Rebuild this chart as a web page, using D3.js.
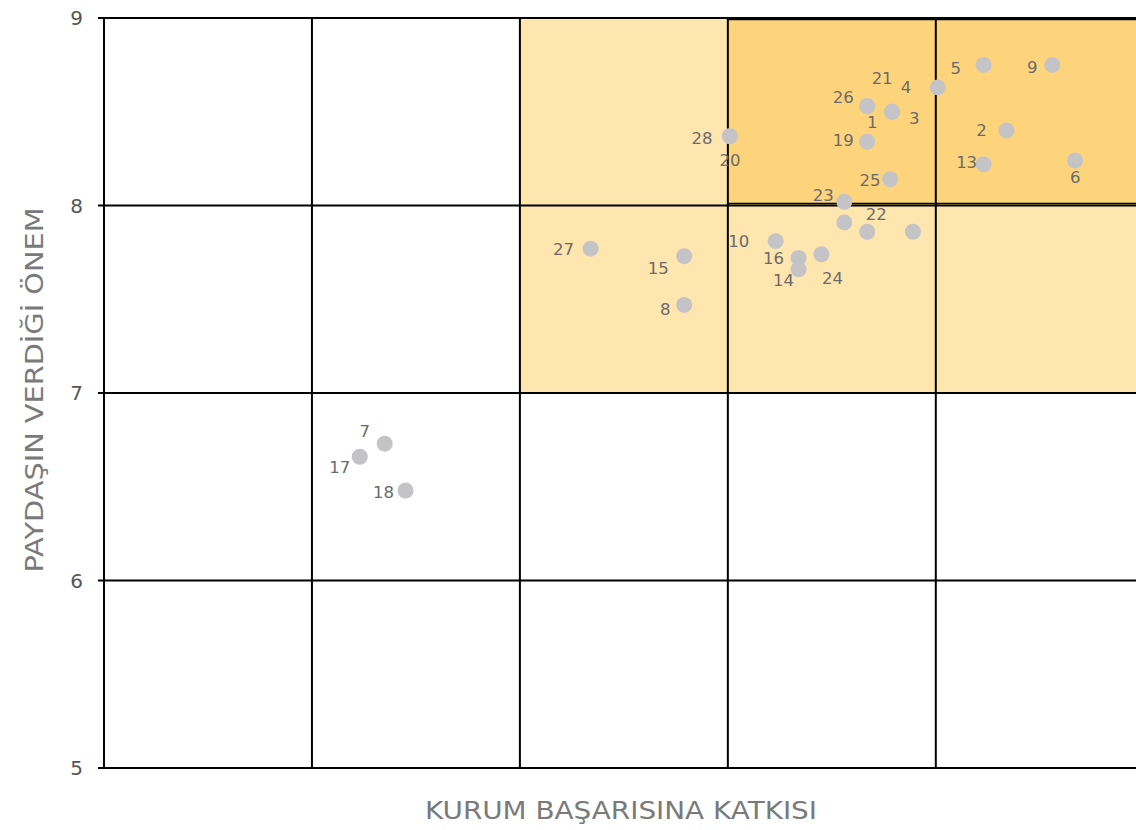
<!DOCTYPE html>
<html><head><meta charset="utf-8">
<script src="https://cdn.jsdelivr.net/npm/d3@7"></script>
<style>body{margin:0;background:#fff}svg{display:block}text{font-family:"DejaVu Sans",sans-serif}</style>
</head><body><svg id="c" width="1136" height="830"></svg>
<script>
const ids = [1,2,3,4,5,6,7,8,9,10,11,12,13,14,15,16,17,18,19,20,21,22,23,24,25,26,27,28];
const katki = [8.67,9.34,8.79,9.01,9.23,9.67,6.35,7.79,9.56,8.23,8.56,8.89,9.23,8.34,7.79,8.34,6.23,6.45,8.67,8.01,8.79,8.67,8.56,8.45,8.78,8.67,7.34,8.01];
const onem  = [8.53,8.40,8.50,8.63,8.75,8.24,6.73,7.47,8.75,7.81,7.91,7.86,8.22,7.66,7.73,7.72,6.66,6.48,8.34,8.37,8.50,7.86,8.02,7.74,8.14,8.53,7.77,8.37];
const hiddenLabels = [11,12];
const yTicks = [5,6,7,8,9];
const xGrid = [5,6,7,8,9,10];
const xTitle = "KURUM BAŞARISINA KATKISI";
const yTitle = "PAYDAŞIN VERDİĞİ ÖNEM";

// label placement (layout only): offset of label centre from point, px
const labelOffset = {1:[5,16],2:[-25,0],3:[22,6],4:[-32,0],5:[-28,3],6:[0,17],7:[-20,-12],8:[-19,4],9:[-20,2],10:[-37,0],
  13:[-17,-2],14:[-15,11],15:[-26,12],16:[-25,0],17:[-20,10],18:[-22,2],19:[-24,-2],20:[0,24],21:[-10,-34],22:[9,-18],
  23:[-21,-7],24:[11,24],25:[-20,1],26:[-24,-9],27:[-27,1],28:[-28,2]};

const svg = d3.select("#c");
const x = d3.scaleLinear().domain([5,10]).range([104,1143.75]);
const y = d3.scaleLinear().domain([5,9]).range([768,18]);

// quadrant shading
svg.append("rect").attr("x",x(7)).attr("y",y(9)).attr("width",x(10)-x(7)).attr("height",y(7)-y(9))
  .attr("fill","#FFE5AE").attr("stroke","#E8C15A").attr("stroke-width",1);
svg.append("rect").attr("x",x(8)).attr("y",y(9)).attr("width",x(10)-x(8)).attr("height",y(8)-y(9))
  .attr("fill","#FDD47B");

const g = svg.append("g");
g.selectAll("line.h").data(yTicks).join("line").attr("class","h")
  .attr("x1",98).attr("x2",1136).attr("y1",d=>y(d)).attr("y2",d=>y(d))
  .attr("stroke","#000").attr("stroke-width",2);
svg.append("line").attr("x1",x(8)).attr("x2",1136).attr("y1",y(8)-2).attr("y2",y(8)-2).attr("stroke","#000").attr("stroke-width",1.5);
svg.append("line").attr("x1",x(8)).attr("x2",1136).attr("y1",y(9)+1.5).attr("y2",y(9)+1.5).attr("stroke","#000").attr("stroke-width",1.5);
g.selectAll("line.v").data(xGrid).join("line").attr("class","v")
  .attr("x1",d=>x(d)).attr("x2",d=>x(d)).attr("y1",y(9)).attr("y2",y(5))
  .attr("stroke","#000").attr("stroke-width",2);

svg.selectAll("text.yt").data(yTicks).join("text").attr("class","yt")
  .attr("x",83).attr("y",d=>y(d)).attr("dy","0.35em").attr("text-anchor","end")
  .attr("font-size",20).attr("fill","#555").text(d=>d);

svg.append("text").attr("x",621).attr("y",819).attr("text-anchor","middle")
  .attr("font-size",24).attr("fill","#7a7a7a")
  .attr("textLength",392).attr("lengthAdjust","spacingAndGlyphs").text(xTitle);
svg.append("text").attr("transform","translate(43,390) rotate(-90)").attr("text-anchor","middle")
  .attr("font-size",24).attr("fill","#7a7a7a")
  .attr("textLength",365).attr("lengthAdjust","spacingAndGlyphs").text(yTitle);

const pts = ids.map((id,i)=>({id,x:katki[i],y:onem[i]}));
svg.selectAll("circle.p").data(pts).join("circle").attr("class","p")
  .attr("cx",d=>x(d.x)).attr("cy",d=>y(d.y)).attr("r",8).attr("fill","#C4C4C6");
svg.selectAll("text.lb").data(pts.filter(d=>!hiddenLabels.includes(d.id))).join("text").attr("class","lb")
  .attr("x",d=>x(d.x)+labelOffset[d.id][0]).attr("y",d=>y(d.y)+labelOffset[d.id][1])
  .attr("dy","0.35em").attr("text-anchor","middle").attr("font-size",16.5).attr("fill","#6b6b6e").text(d=>d.id);
</script></body></html>
